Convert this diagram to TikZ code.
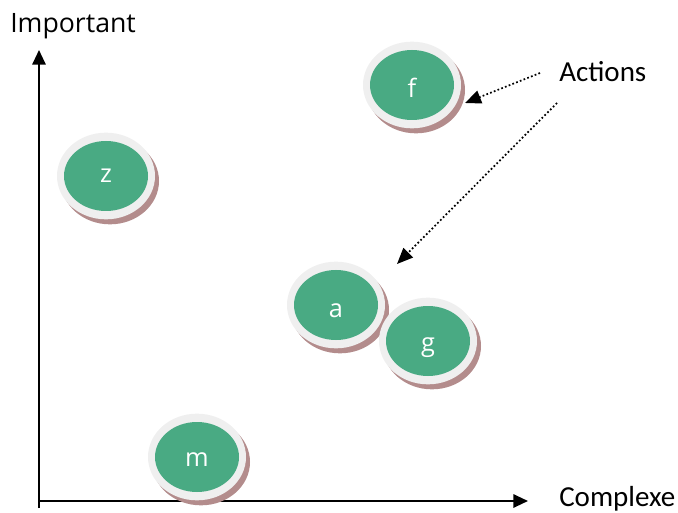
\documentclass[tikz,border=0pt]{standalone}
\usepackage{fontspec}
\newfontfamily\osfont{Open Sans}
\newfontfamily\cbfont{Carlito}
\usetikzlibrary{shapes.geometric,arrows.meta}
\definecolor{bubgreen}{HTML}{49AA83}
\definecolor{bubring}{HTML}{EFEFEF}
\definecolor{bubshadow}{HTML}{B38C8C}
\tikzset{
  bubble/.style={ellipse, fill=bubgreen, inner sep=0pt, minimum width=63pt, minimum height=52.5pt},
  bublabel/.style={anchor=base, text=white, font=\osfont\fontsize{19}{19}\selectfont, inner sep=0pt},
  axis/.style={line width=1.5pt, -{Triangle[length=11pt, width=10pt]}},
  pointer/.style={line width=1.3pt, dash pattern=on 1.3pt off 1.7pt, -{Triangle[length=12pt, width=10pt]}},
  axlabel/.style={anchor=base west, inner sep=0pt}
}
\newcommand{\mybubble}[5]{%
  \fill[bubshadow] (#2+4,#3+5) ellipse [x radius=36.75pt, y radius=32.5pt];
  \fill[bubring] (#2,#3) ellipse [x radius=36.75pt, y radius=32.5pt];
  \node[bubble] (#1) at (#2,#3) {};
  \node[bublabel] (#1-label) at (#2,#3+#5) {#4};
}
\begin{document}
\begin{tikzpicture}[x=0.75pt, y=-0.75pt]
\useasboundingbox (0,0) rectangle (678,513);
% axes
\coordinate (ybot) at (39,508);
\coordinate (ytop) at (39,50);
\coordinate (xstart) at (38,501);
\coordinate (xend) at (528,501);
\draw[axis] (ybot) -- (ytop);
\draw[axis] (xstart) -- (xend);
\node[axlabel, font=\osfont\fontsize{20}{20}\selectfont] (important) at (10,33) {Important};
\node[axlabel, font=\cbfont\fontsize{21.75}{21.75}\selectfont] (complexe) at (559,506) {Complexe};
\node[axlabel, font=\cbfont\fontsize{21.75}{21.75}\selectfont] (actions) at (559,82) {Actions};
% bubbles
\mybubble{z}{106}{176}{z}{7}
\mybubble{f}{412}{85}{f}{13}
\mybubble{a}{336}{305}{a}{12}
\mybubble{g}{428}{341}{g}{10}
\mybubble{m}{197}{457}{m}{9}
% pointers
\coordinate (p1start) at (540,73);
\coordinate (p1end) at (465,103);
\coordinate (p2start) at (557,103);
\coordinate (p2end) at (397,264);
\draw[pointer] (p1start) -- (p1end);
\draw[pointer] (p2start) -- (p2end);
\end{tikzpicture}
\end{document}
